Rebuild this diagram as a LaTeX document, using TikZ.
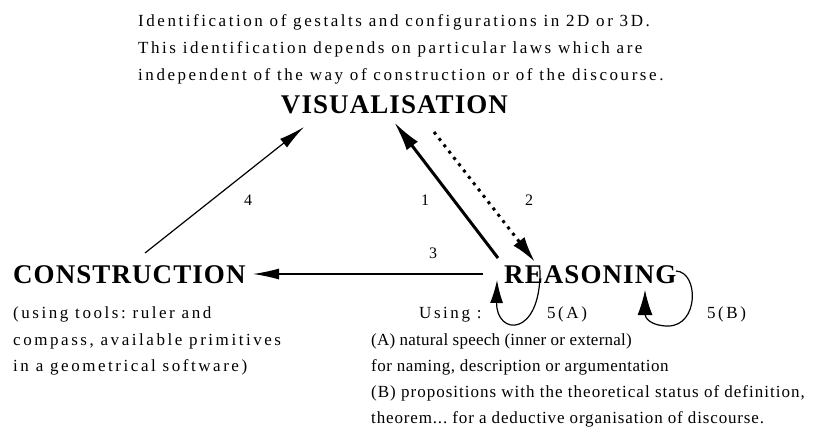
\documentclass[tikz,border=0pt]{standalone}
\usepackage{fontspec}
\setmainfont{Liberation Serif}
\newfontfamily\bodyfont[LetterSpace=15]{Liberation Serif}
\newfontfamily\listfontA[LetterSpace=1.3]{Liberation Serif}
\newfontfamily\listfontN[LetterSpace=3]{Liberation Serif}
\newfontfamily\listfontB[LetterSpace=5.9]{Liberation Serif}
\newfontfamily\listfontT[LetterSpace=5]{Liberation Serif}
\newfontfamily\headfont[LetterSpace=4]{Liberation Serif}
\usetikzlibrary{arrows.meta}
\tikzset{
  body/.style={font=\bodyfont\fontsize{17}{20}\selectfont\frenchspacing, inner sep=0pt, anchor=base west},
  listtxt/.style={font=#1\fontsize{17}{20}\selectfont\frenchspacing, inner sep=0pt, anchor=base west},
  head/.style={font=\headfont\fontsize{27}{30}\selectfont\bfseries, inner sep=0pt},
  lbl/.style={font=\fontsize{16}{18}\selectfont, inner sep=0pt},
  thin/.style={line width=1.2pt, -{Latex[length=26pt,width=11pt]}},
  thick/.style={line width=3pt, -{Latex[length=30pt,width=14pt]}},
  dotline/.style={line width=3pt, dash pattern=on 3pt off 5pt, -{Latex[length=26pt,width=14pt]}},
  loopA/.style={line width=1.2pt, -{Latex[length=23pt,width=13pt]}},
  loopB/.style={line width=1.2pt, -{Latex[length=25pt,width=15pt]}},
}
\begin{document}
\begin{tikzpicture}[x=1pt,y=-1pt]
\useasboundingbox (0,0) rectangle (813,432);
% top description
\node[body] (t1) at (138,26) {Identification of gestalts and configurations in 2D or 3D.};
\node[body] (t2) at (138,53) {This identification depends on particular laws which are};
\node[body] (t3) at (138,80) {independent of the way of construction or of the discourse.};
% main nodes
\node[head,anchor=base] (vis) at (394.5,113) {VISUALISATION};
\node[head,anchor=base west] (con) at (13,283) {CONSTRUCTION};
\node[head,anchor=base west] (rea) at (504,283) {REASONING};
% construction text
\node[body] (c1) at (13,318) {(using tools: ruler and};
\node[body] (c2) at (13,345) {compass, available primitives};
\node[body] (c3) at (13,371) {in a geometrical software)};
% reasoning text
\node[body] (u) at (419,318) {Using :};
\node[listtxt=\listfontA] (a1) at (371,345) {(A) natural speech (inner or external)};
\node[listtxt=\listfontN] (a2) at (371,371) {for naming, description or argumentation};
\node[listtxt=\listfontB] (b1) at (371,397) {(B) propositions with the theoretical status of definition,};
\node[listtxt=\listfontT] (b2) at (371,423) {theorem... for a deductive organisation of discourse.};
% endpoints
\coordinate (p4s) at (145,253);
\coordinate (p4e) at (304,127);
\coordinate (p3s) at (483,274);
\coordinate (p3e) at (253,274);
\coordinate (p1s) at (498,258);
\coordinate (p1e) at (394,122);
\coordinate (p2s) at (434,132);
\coordinate (p2e) at (535,262);
\coordinate (lAs) at (540,270);
\coordinate (lAe) at (497,280);
\coordinate (lBs) at (676,271);
\coordinate (lBe) at (645,290);
% connectors
\draw[thin] (p4s) -- (p4e);
\draw[thin] (p3s) -- (p3e);
\draw[thick] (p1s) -- (p1e);
\draw[dotline] (p2s) -- (p2e);
\draw[loopA] (lAs) .. controls (541,338) and (496,336) .. (lAe);
\draw[loopB] (lBs) .. controls (699,272) and (699,326) .. (668,326) .. controls (651,326) and (645,318) .. (lBe);
% labels
\node[lbl] (n4) at (248,200) {4};
\node[lbl] (n1) at (425,200) {1};
\node[lbl] (n2) at (529,200) {2};
\node[lbl] (n3) at (433,253) {3};
\node[body] (nA) at (547,318) {5(A)};
\node[body] (nB) at (707,318) {5(B)};
\end{tikzpicture}
\end{document}
